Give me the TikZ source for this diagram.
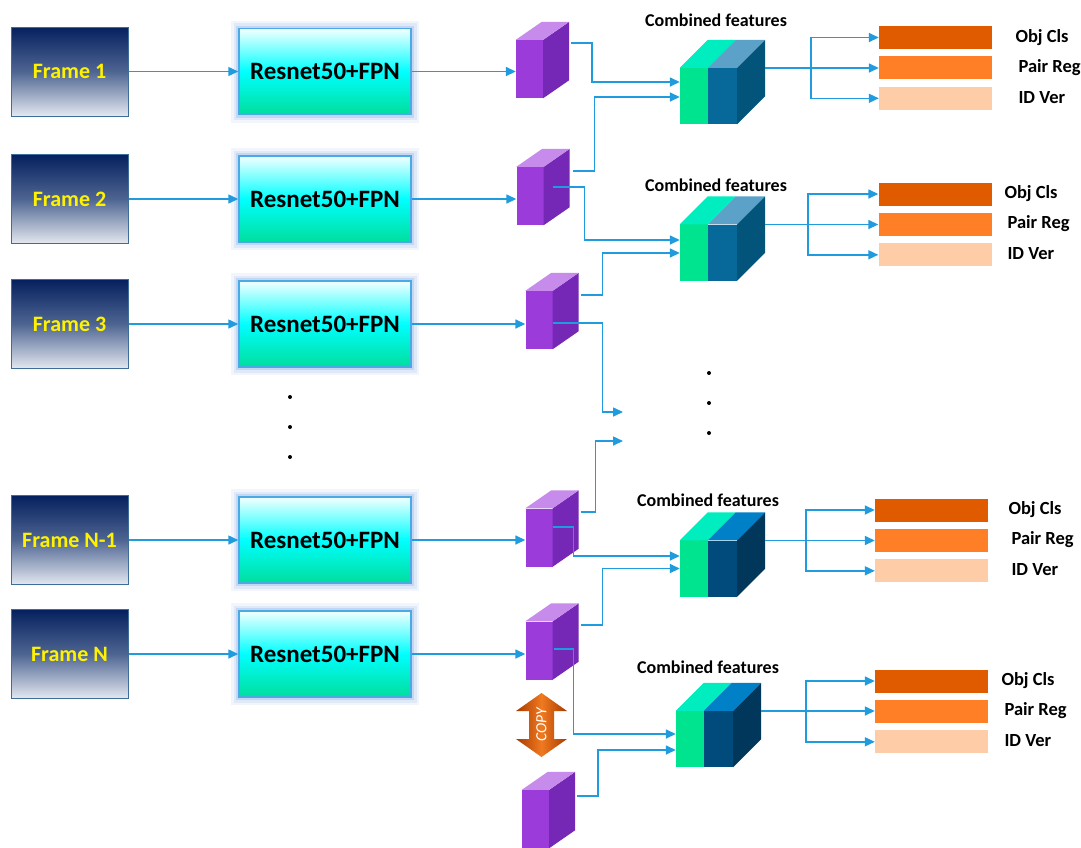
\documentclass[tikz,border=0pt]{standalone}
\usepackage{fontspec}
\setmainfont{Carlito}
\usetikzlibrary{arrows.meta, positioning, calc}

\definecolor{linkblue}{HTML}{1F9BDE}
\definecolor{fnavy}{HTML}{05205E}
\definecolor{fmid}{HTML}{4E6592}
\definecolor{fpale}{HTML}{E4E8F0}
\definecolor{fedge}{HTML}{3D6E9A}
\definecolor{netedge}{HTML}{4BAAE6}
\definecolor{nettop}{HTML}{F2FFFF}
\definecolor{netmid}{HTML}{00FFFF}
\definecolor{netbot}{HTML}{00DE9C}
\definecolor{glowc}{HTML}{A9C4EE}
\definecolor{mapfront}{HTML}{9A3BDA}
\definecolor{mapside}{HTML}{7528B5}
\definecolor{maptop}{HTML}{C78BEB}
\definecolor{cgreen}{HTML}{00E38F}
\definecolor{ctopgreen}{HTML}{00EDC0}
\definecolor{cfronta}{HTML}{07699A}
\definecolor{ctopa}{HTML}{5CA1C8}
\definecolor{csidea}{HTML}{03547A}
\definecolor{cfrontb}{HTML}{004B7B}
\definecolor{ctopb}{HTML}{0080C7}
\definecolor{csideb}{HTML}{00375B}
\definecolor{objc}{HTML}{E05A00}
\definecolor{pairc}{HTML}{FF7F27}
\definecolor{idc}{HTML}{FFCCA8}
\definecolor{copydark}{HTML}{A83A00}
\definecolor{copylight}{HTML}{F07A20}

% feature map: name, x, y
\newcommand{\featmap}[3]{%
  \node[fmap] (#1) at (#2,#3) {};
  \fill[mapside] (#1.north east) -- ++(26,-18) -- ($(#1.south east)+(26,-18)$) -- (#1.south east) -- cycle;
  \fill[maptop] (#1.north west) -- ++(26,-18) -- ($(#1.north east)+(26,-18)$) -- (#1.north east) -- cycle;
}
% combined features: name, x, y, colour set
\newcommand{\combcube}[4]{%
  \node[combo, fill=cfront#4] (#1) at (#2,#3) {};
  \fill[cgreen] (#1.north west) rectangle ($(#1.south west)+(28,0)$);
  \fill[ctopgreen] (#1.north west) -- ++(28,-28) -- ++(28,0) -- ($(#1.north west)+(28,0)$) -- cycle;
  \fill[ctop#4] ($(#1.north west)+(28,0)$) -- ++(28,-28) -- ($(#1.north east)+(28,-28)$) -- (#1.north east) -- cycle;
  \fill[cside#4] (#1.north east) -- ++(28,-28) -- ($(#1.south east)+(28,-28)$) -- (#1.south east) -- cycle;
}

\begin{document}
\begin{tikzpicture}[x=1pt, y=-1pt,
    link/.style={draw=linkblue, line width=1.5pt, -{Triangle[length=10pt,width=9pt]}},
    framebox/.style={rectangle, minimum width=117, minimum height=89, top color=fnavy, bottom color=fpale, middle color=fmid, draw=fedge, line width=1pt, text=yellow, font=\fontsize{22}{26}\selectfont\bfseries},
    netbox/.style={rectangle, minimum width=172, minimum height=86, top color=nettop, bottom color=netbot, middle color=netmid, draw=netedge, line width=1.5pt, font=\fontsize{25}{30}\selectfont\bfseries,
        preaction={draw=glowc, line width=16pt, opacity=0.15, rounded corners=6pt},
        preaction={draw=glowc, line width=11pt, opacity=0.25, rounded corners=4pt},
        preaction={draw=glowc, line width=6pt, opacity=0.5}},
    fmap/.style={rectangle, minimum width=27, minimum height=58, inner sep=0, fill=mapfront},
    combo/.style={rectangle, minimum width=57, minimum height=56, inner sep=0},
    cflabel/.style={font=\fontsize{18}{21}\selectfont\bfseries},
    bar/.style={rectangle, minimum width=113, minimum height=23, inner sep=0},
    headtxt/.style={anchor=west, font=\fontsize{18.5}{21}\selectfont\bfseries},
    dot/.style={circle, fill=black, inner sep=0, minimum size=4}]

    \fill[white] (0,0) rectangle (1081,847);
    \useasboundingbox (0,0) rectangle (1081,847);

    % frames and backbones
    \foreach \n/\t/\y in {1/Frame 1/71.5, 2/Frame 2/199, 3/Frame 3/324, n1/Frame N-1/540, n/Frame N/654}{
        \node[framebox] (f\n) at (69.5,\y) {\t};
        \node[netbox] (r\n) at (325,\y) {Resnet50+FPN};
        \draw[link] (f\n) -- (r\n);
    }
    \foreach \i/\y in {1/397, 2/427, 3/457}
        \node[dot] (ld\i) at (290,\y) {};

    % feature maps
    \featmap{m1}{529.5}{69}
    \featmap{m2}{530}{196}
    \featmap{m3}{539}{320}
    \featmap{mn1}{539}{537.5}
    \featmap{mn}{539}{650.5}
    \featmap{mc}{535.5}{819}
    \draw[link] (r1) -- (r1 -| m1.west);
    \draw[link] (r2) -- (r2 -| m2.west);
    \draw[link] (r3) -- (r3 -| m3.west);
    \draw[link] (rn1) -- (rn1 -| mn1.west);
    \draw[link] (rn) -- (rn -| mn.west);

    % copy
    \shade[left color=copydark, right color=copydark, middle color=copylight]
        (541.5,693) -- (567,711) -- (554,711) -- (554,739) -- (567,739) -- (541.5,757)
        -- (516,739) -- (529,739) -- (529,711) -- (516,711) -- cycle;
    \node[rotate=90, text=white, font=\fontsize{15.5}{18}\selectfont\itshape] (cp) at (541.5,725) {COPY};

    % combined features
    \combcube{cf1}{708.5}{96}{a}
    \combcube{cf2}{708.5}{252.5}{a}
    \combcube{cf3}{708.5}{568.5}{b}
    \combcube{cf4}{704.5}{739}{b}
    \node[cflabel] (cl1) at (716,20) {Combined features};
    \node[cflabel] (cl2) at (716,185) {Combined features};
    \node[cflabel] (cl3) at (708,500) {Combined features};
    \node[cflabel] (cl4) at (708,667) {Combined features};

    \coordinate (dtop) at (623,412);
    \coordinate (dbot) at (623,441);
    \foreach \i/\y in {1/373, 2/403, 3/433}
        \node[dot] (rd\i) at (709,\y) {};

    \draw[link] ($(m1.east)+(28,-26)$) -- ++(21,0) |- ($(cf1.west)+(0,-14)$);
    \draw[link] ($(m2.east)+(29,-25)$) -- ++(22,0) |- ($(cf1.west)+(0,1)$);
    \draw[link] ($(m2.east)+(9,-9)$) -- ++(32,0) |- ($(cf2.west)+(0,-12.5)$);
    \draw[link] ($(m3.east)+(28,-25)$) -- ++(22,0) |- ($(cf2.west)+(0,0.5)$);
    \draw[link] ($(m3.east)+(0,3)$) -- ++(50,0) |- (dtop);
    \draw[link] ($(mn1.east)+(28,-25.5)$) -- ++(15,0) |- (dbot);
    \draw[link] ($(mn1.east)+(0,-10.5)$) -- ++(21,0) |- ($(cf3.west)+(0,-12.5)$);
    \draw[link] ($(mn.east)+(28,-25.5)$) -- ++(22,0) |- (cf3.west);
    \draw[link] ($(mn.east)+(1,-1.5)$) -- ++(20,0) |- ($(cf4.west)+(0,-5)$);
    \draw[link] ($(mc.east)+(28,-23)$) -- ++(21,0) |- ($(cf4.west)+(0,11)$);

    % heads
    \foreach \g/\bx/\by/\lx/\brx in {1/935.5/37.5/1012/811, 2/935/194/1001/808, 3/931.5/510/1005/806, 4/931.5/681/998/806}{
        \node[bar, fill=objc] (obj\g) at (\bx,\by) {};
        \node[bar, fill=pairc, below=7pt of obj\g] (pair\g) {};
        \node[bar, fill=idc, below=7pt of pair\g] (id\g) {};
        \node[headtxt] (tobj\g) at (\lx,\by) {Obj Cls};
        \node[headtxt] (tpair\g) at (\lx+3,\by+30) {Pair Reg};
        \node[headtxt] (tid\g) at (\lx+3,\by+60) {ID Ver};
        \coordinate (out\g) at ($(cf\g.east)+(28,-28)$);
        \coordinate (br\g) at (\brx,\by+30);
        \draw[link] (out\g) -- (out\g -| pair\g.west);
        \draw[link] (br\g) |- (obj\g.west);
        \draw[link] (br\g) |- (id\g.west);
    }
\end{tikzpicture}
\end{document}
